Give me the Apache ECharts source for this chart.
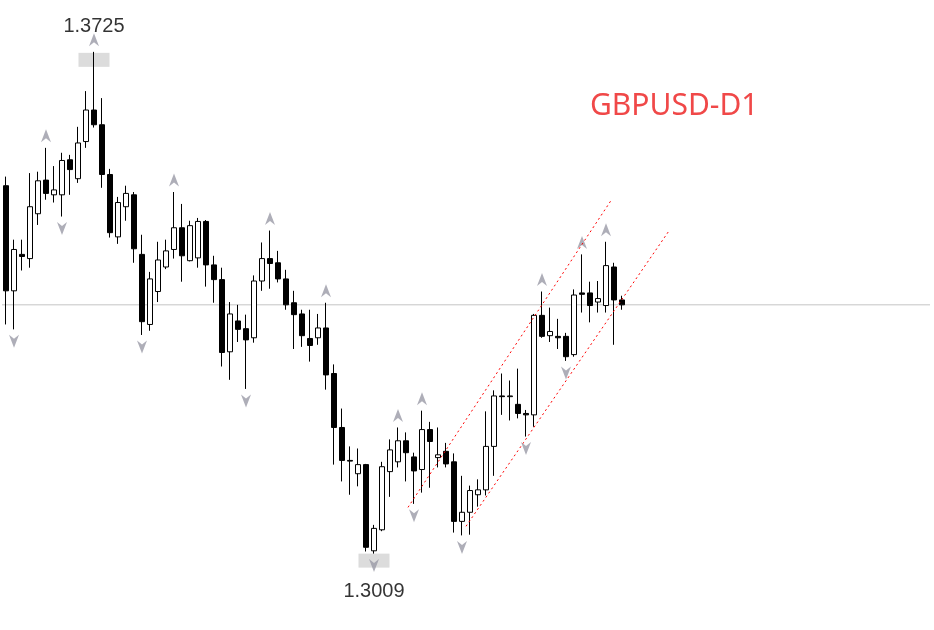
<!DOCTYPE html>
<html>
<head>
<meta charset="utf-8">
<script src="https://cdn.jsdelivr.net/npm/echarts@6/dist/echarts.min.js"></script>
<style>html,body{margin:0;padding:0;background:#fff}#main{width:934px;height:630px}</style>
</head>
<body>
<div id="main"></div>
<script>
var open = [1.3534,1.3384,1.3436,1.3430,1.3494,1.3542,1.3521,1.3521,1.3571,1.3544,1.3597,1.3642,1.3621,1.3550,1.3461,1.3504,1.3521,1.3436,1.3336,1.3383,
	1.3418,1.3443,1.3474,1.3427,1.3431,1.3483,1.3421,1.3400,1.3297,1.3341,1.3330,1.3317,1.3398,1.3430,1.3424,1.3401,1.3367,1.3351,1.3316,1.3317,
	1.3331,1.3266,1.3189,1.3142,1.3123,1.3136,1.3013,1.3043,1.3126,1.3140,1.3170,1.3147,1.3129,1.3186,1.3146,1.3155,1.3140,1.3055,1.3068,1.3093,
	1.3100,1.3162,1.3234,1.3233,1.3222,1.3209,1.3207,1.3349,1.3320,1.3319,1.3319,1.3293,1.3381,1.3381,1.3368,1.3363,1.3418,1.3371];
var close = [1.3384,1.3443,1.3433,1.3504,1.3541,1.3523,1.3528,1.3570,1.3557,1.3595,1.3642,1.3621,1.3550,1.3467,1.3510,1.3523,1.3444,1.3340,1.3401,1.3428,
	1.3441,1.3474,1.3434,1.3477,1.3483,1.3421,1.3400,1.3296,1.3351,1.3329,1.3314,1.3398,1.3430,1.3423,1.3401,1.3364,1.3350,1.3320,1.3306,1.3331,
	1.3264,1.3189,1.3142,1.3141,1.3136,1.3018,1.3045,1.3133,1.3157,1.3170,1.3153,1.3127,1.3186,1.3169,1.3150,1.3137,1.3055,1.3068,1.3099,1.3100,
	1.3162,1.3234,1.3233,1.3234,1.3209,1.3207,1.3349,1.3319,1.3326,1.3317,1.3290,1.3378,1.3379,1.3363,1.3373,1.3420,1.3371,1.3364];
var low = [1.3336,1.3329,1.3413,1.3417,1.3478,1.3514,1.3510,1.3490,1.3521,1.3538,1.3588,1.3617,1.3531,1.3460,1.3451,1.3484,1.3424,1.3321,1.3327,1.3368,
	1.3415,1.3430,1.3397,1.3426,1.3417,1.3390,1.3367,1.3276,1.3257,1.3311,1.3244,1.3310,1.3384,1.3387,1.3396,1.3357,1.3301,1.3304,1.3283,1.3307,
	1.3243,1.3136,1.3112,1.3093,1.3105,1.3012,1.3009,1.3041,1.3090,1.3132,1.3112,1.3080,1.3096,1.3103,1.3132,1.3132,1.3039,1.3035,1.3036,1.3076,
	1.3092,1.3120,1.3207,1.3199,1.3202,1.3176,1.3190,1.3317,1.3311,1.3301,1.3284,1.3290,1.3353,1.3339,1.3353,1.3353,1.3307,1.3357];
var high = [1.3547,1.3457,1.3457,1.3552,1.3554,1.3588,1.3562,1.3581,1.3578,1.3618,1.3669,1.3725,1.3659,1.3558,1.3518,1.3534,1.3525,1.3464,1.3411,1.3454,
	1.3457,1.3525,1.3508,1.3484,1.3488,1.3485,1.3434,1.3417,1.3368,1.3364,1.3350,1.3406,1.3453,1.3470,1.3441,1.3414,1.3384,1.3357,1.3357,1.3351,
	1.3367,1.3279,1.3216,1.3162,1.3159,1.3137,1.3050,1.3140,1.3172,1.3189,1.3182,1.3153,1.3213,1.3197,1.3189,1.3167,1.3152,1.3120,1.3106,1.3115,
	1.3212,1.3242,1.3266,1.3256,1.3273,1.3214,1.3351,1.3383,1.3360,1.3344,1.3324,1.3386,1.3436,1.3397,1.3398,1.3454,1.3424,1.3377];
// fractal markers (candle index)
var upFractals = [5,11,21,33,40,49,52,67,72,75];
var downFractals = [1,7,17,30,46,51,57,65,70];
var topIndex = 11, bottomIndex = 46;
var title = 'GBPUSD-D1';
// channel lines [x index, price]
var upperChannel = [[50.25,1.3075],[75.75,1.3515]];
var lowerChannel = [[57.5,1.3048],[82.9,1.3470]];
var nSlots = 116;

var cats = [];
for (var i = 0; i < nSlots; i++) cats.push(String(i));
var ohlc = open.map(function (o, i) { return [o, close[i], low[i], high[i]]; });
var last = close[close.length - 1];
var arrowUp = 'path://M5,0 L10,13 L5,9 L0,13 Z';
var arrowDown = 'path://M0,0 L5,4 L10,0 L5,13 Z';
var labelFont = 'Liberation Sans';

var myChart = echarts.init(document.getElementById('main'));
var option = {
	animation: false,
	title: {
		text: title, left: 585, top: 86,
		textStyle: { color: '#f04848', fontSize: 30, fontWeight: 'normal', fontFamily: 'Noto Sans' }
	},
	grid: { left: 2, right: 4, top: 0, bottom: 0 },
	xAxis: [
		{ type: 'category', data: cats, show: false },
		{ type: 'value', min: -0.5, max: nSlots - 0.5, show: false }
	],
	yAxis: { type: 'value', min: 1.2900, max: 1.3799, show: false },
	series: [
		{
			type: 'line', xAxisIndex: 1, data: [[-0.5, last], [nSlots - 0.5, last]], symbol: 'none', z: 0,
			lineStyle: { color: '#c4c4c4', width: 1 }
		},
		{
			type: 'candlestick', data: ohlc, barWidth: 5,
			itemStyle: { color: '#fff', color0: '#000', borderColor: '#000', borderColor0: '#000', borderWidth: 1 }
		},
		{
			type: 'scatter', symbol: arrowUp, symbolSize: [10, 13], symbolOffset: [0, -12],
			itemStyle: { color: '#9a9aa6' },
			data: upFractals.map(function (i) { return [String(i), high[i]]; })
		},
		{
			type: 'scatter', symbol: arrowDown, symbolSize: [10, 13], symbolOffset: [0, 12],
			itemStyle: { color: '#9a9aa6' }, z: 3,
			data: downFractals.map(function (i) { return [String(i), low[i]]; })
		},
		{
			type: 'scatter', symbol: 'rect', symbolSize: [31, 14], symbolOffset: [0, 8], z: 1,
			itemStyle: { color: '#d3d3d3' },
			label: { show: true, position: 'top', distance: 16, color: '#000', fontSize: 20, fontFamily: labelFont,
				formatter: function (p) { return p.value[1].toFixed(4); } },
			data: [[String(topIndex), high[topIndex]]]
		},
		{
			type: 'scatter', symbol: 'rect', symbolSize: [31, 14], symbolOffset: [0, 7], z: 1,
			itemStyle: { color: '#d3d3d3' },
			label: { show: true, position: 'bottom', distance: 14, color: '#000', fontSize: 20, fontFamily: labelFont,
				formatter: function (p) { return p.value[1].toFixed(4); } },
			data: [[String(bottomIndex), low[bottomIndex]]]
		},
		{
			type: 'line', xAxisIndex: 1, data: upperChannel, symbol: 'none',
			lineStyle: { color: '#f00', width: 1, type: [2, 3] }
		},
		{
			type: 'line', xAxisIndex: 1, data: lowerChannel, symbol: 'none',
			lineStyle: { color: '#f00', width: 1, type: [2, 3] }
		}
	]
};
myChart.setOption(option);
</script>
</body>
</html>
